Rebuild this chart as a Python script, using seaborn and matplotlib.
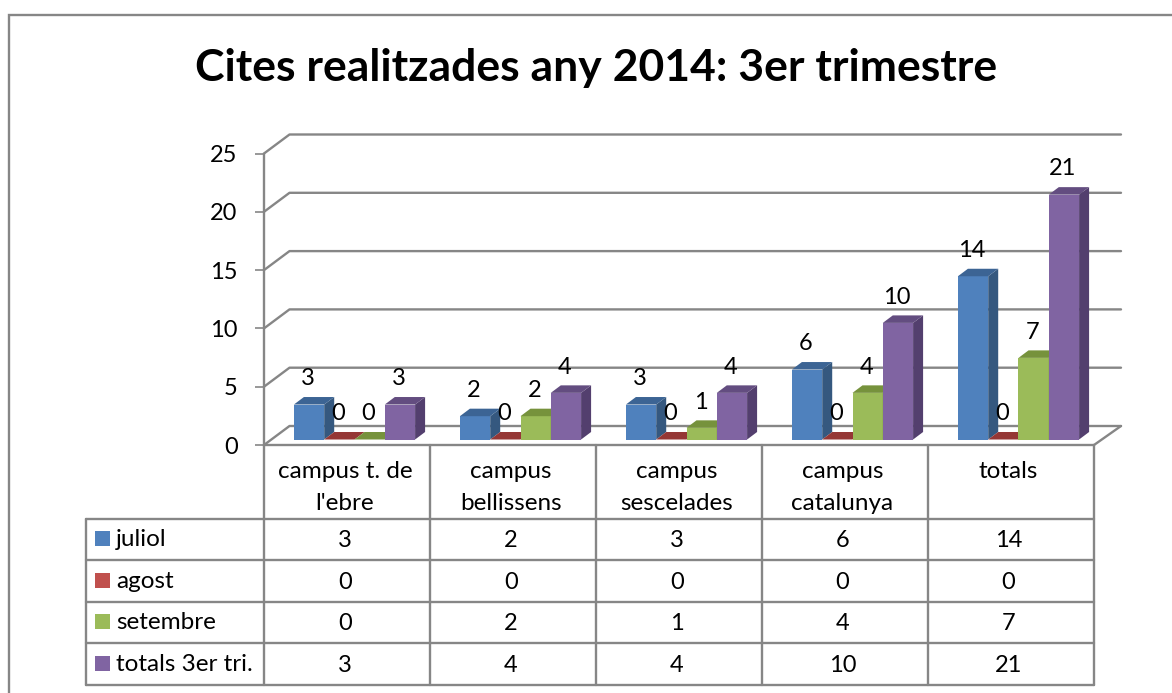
import pandas as pd
import seaborn as sns
import matplotlib.pyplot as plt
from matplotlib.patches import Polygon, Rectangle

# chart values
categories = ['campus t. de\nl\'ebre', 'campus\nbellissens', 'campus\nsescelades', 'campus\ncatalunya', 'totals']
juliol = [3, 2, 3, 6, 14]
agost = [0, 0, 0, 0, 0]
setembre = [0, 2, 1, 4, 7]
totals_tri = [3, 4, 4, 10, 21]
series_names = ['juliol', 'agost', 'setembre', 'totals 3er tri.']
y_ticks = [0, 5, 10, 15, 20, 25]
title = 'Cites realitzades any 2014: 3er trimestre'

front_colors = ['#4F81BD', '#C0504D', '#9BBB59', '#8064A2']
side_colors = ['#35587F', '#953735', '#76923C', '#533F6E']
top_colors = ['#3C6494', '#953735', '#76923C', '#634D80']
line_color = '#868686'
line_w = 1.7

W, H = 1172, 693
sns.set_theme(style='white')
plt.rcParams['font.family'] = ['Lato', 'DejaVu Sans']

text_size = 17.5
digit_size = 17

df = pd.DataFrame({'campus': categories, series_names[0]: juliol, series_names[1]: agost,
                   series_names[2]: setembre, series_names[3]: totals_tri})
long_df = df.melt(id_vars='campus', var_name='mes', value_name='cites')

fig = plt.figure(figsize=(W / 100, H / 100), dpi=100, facecolor='white')

def px_axes(left, right, top, bottom):
    return fig.add_axes([left / W, 1 - bottom / H, (right - left) / W, (bottom - top) / H])

# pixel layer for frame, walls and the data table
bg = fig.add_axes([0, 0, 1, 1])
bg.set_xlim(0, W)
bg.set_ylim(H, 0)
bg.axis('off')

# outer chart frame
bg.plot([9, 9, W], [H, 14.5, 14.5], color=line_color, lw=line_w, solid_joinstyle='miter')
bg.text(596, 68, title, ha='center', va='center', fontsize=32, fontweight='bold', color='black')

# front plane with value axis
front = px_axes(264, 1094, 153.5, 445)
front.patch.set_alpha(0)
front.set_xlim(-0.5, 4.5)
front.set_ylim(0, 25)
front.set_xticks([])
front.set_yticks(y_ticks)
front.tick_params(axis='y', length=6.5, width=1.2, color=line_color, pad=12.5, labelsize=digit_size, labelcolor='black', left=True)
for name, spine in front.spines.items():
    spine.set_visible(name == 'left')
spine = front.spines['left']
spine.set_color(line_color)
spine.set_linewidth(line_w)

# walls and floor
unit = (445 - 153.5) / 25
for v in y_ticks:
    yf = 445 - v * unit
    bg.plot([264, 289.5, 1121], [yf, yf - 19, yf - 19], color=line_color, lw=line_w)
bg.plot([1121, 1094], [426, 445], color=line_color, lw=line_w)

# data table
x_edges = [264, 430, 596, 761.5, 927.5, 1093.5]
row_edges = [518.5, 560, 601.5, 643, 684.5]
bg.plot([264, 1093.5], [445, 445], color=line_color, lw=line_w)
for x in x_edges:
    bg.plot([x, x], [445, 684.5], color=line_color, lw=line_w)
bg.plot([85.5, 85.5], [518.5, 684.5], color=line_color, lw=line_w)
for y in row_edges:
    bg.plot([85.5, 1093.5], [y, y], color=line_color, lw=line_w)

for i, cat in enumerate(categories):
    cx = (x_edges[i] + x_edges[i + 1]) / 2 - 2
    bg.text(cx, 461.5, cat, ha='center', va='top', fontsize=text_size, linespacing=1.6, color='black')

rows = [juliol, agost, setembre, totals_tri]
for r, (name, vals) in enumerate(zip(series_names, rows)):
    cy = (row_edges[r] + row_edges[r + 1]) / 2
    bg.add_patch(Rectangle((95, cy - 8), 15, 15, facecolor=front_colors[r], edgecolor='none'))
    bg.text(116, cy + 0.5, name, ha='left', va='center', fontsize=text_size, color='black')
    for i, v in enumerate(vals):
        cx = (x_edges[i] + x_edges[i + 1]) / 2 - 2
        bg.text(cx, cy + 1.5, str(v), ha='center', va='center', fontsize=digit_size, color='black')

# bars, sitting a bit back on the floor
ax = px_axes(271.5, 1101.5, 439.5 - 25 * unit, 439.5)
ax.patch.set_alpha(0)
sns.barplot(data=long_df, x='campus', y='cites', hue='mes', hue_order=series_names,
            palette=front_colors, saturation=1, width=0.73, gap=0, legend=False, ax=ax)
ax.set_xlim(-0.5, 4.5)
ax.set_ylim(0, 25)
ax.axis('off')

# fake 3d: side and top faces taken from each bar
depth_x = 10 / 166
depth_y = 7.5 / unit
for j, container in enumerate(ax.containers):
    for bar in container:
        x0, w, h = bar.get_x(), bar.get_width(), bar.get_height()
        x1 = x0 + w
        bar.set_zorder(10 + j)
        bar.set_edgecolor('none')
        bar.set_clip_on(False)
        ax.add_patch(Polygon([(x1, 0), (x1 + depth_x, depth_y), (x1 + depth_x, h + depth_y), (x1, h)],
                             facecolor=side_colors[j], edgecolor='none', zorder=10.5 + j, clip_on=False))
        ax.add_patch(Polygon([(x0, h), (x0 + depth_x, h + depth_y), (x1 + depth_x, h + depth_y), (x1, h)],
                             facecolor=top_colors[j], edgecolor='none', zorder=10.5 + j, clip_on=False))
    for label in ax.bar_label(container, fmt='%d', padding=11, fontsize=digit_size, color='black'):
        label.set_zorder(30)
        label.set_clip_on(False)
        label.xyann = (-0.8, label.xyann[1])

fig.savefig('out.png', dpi=100)
